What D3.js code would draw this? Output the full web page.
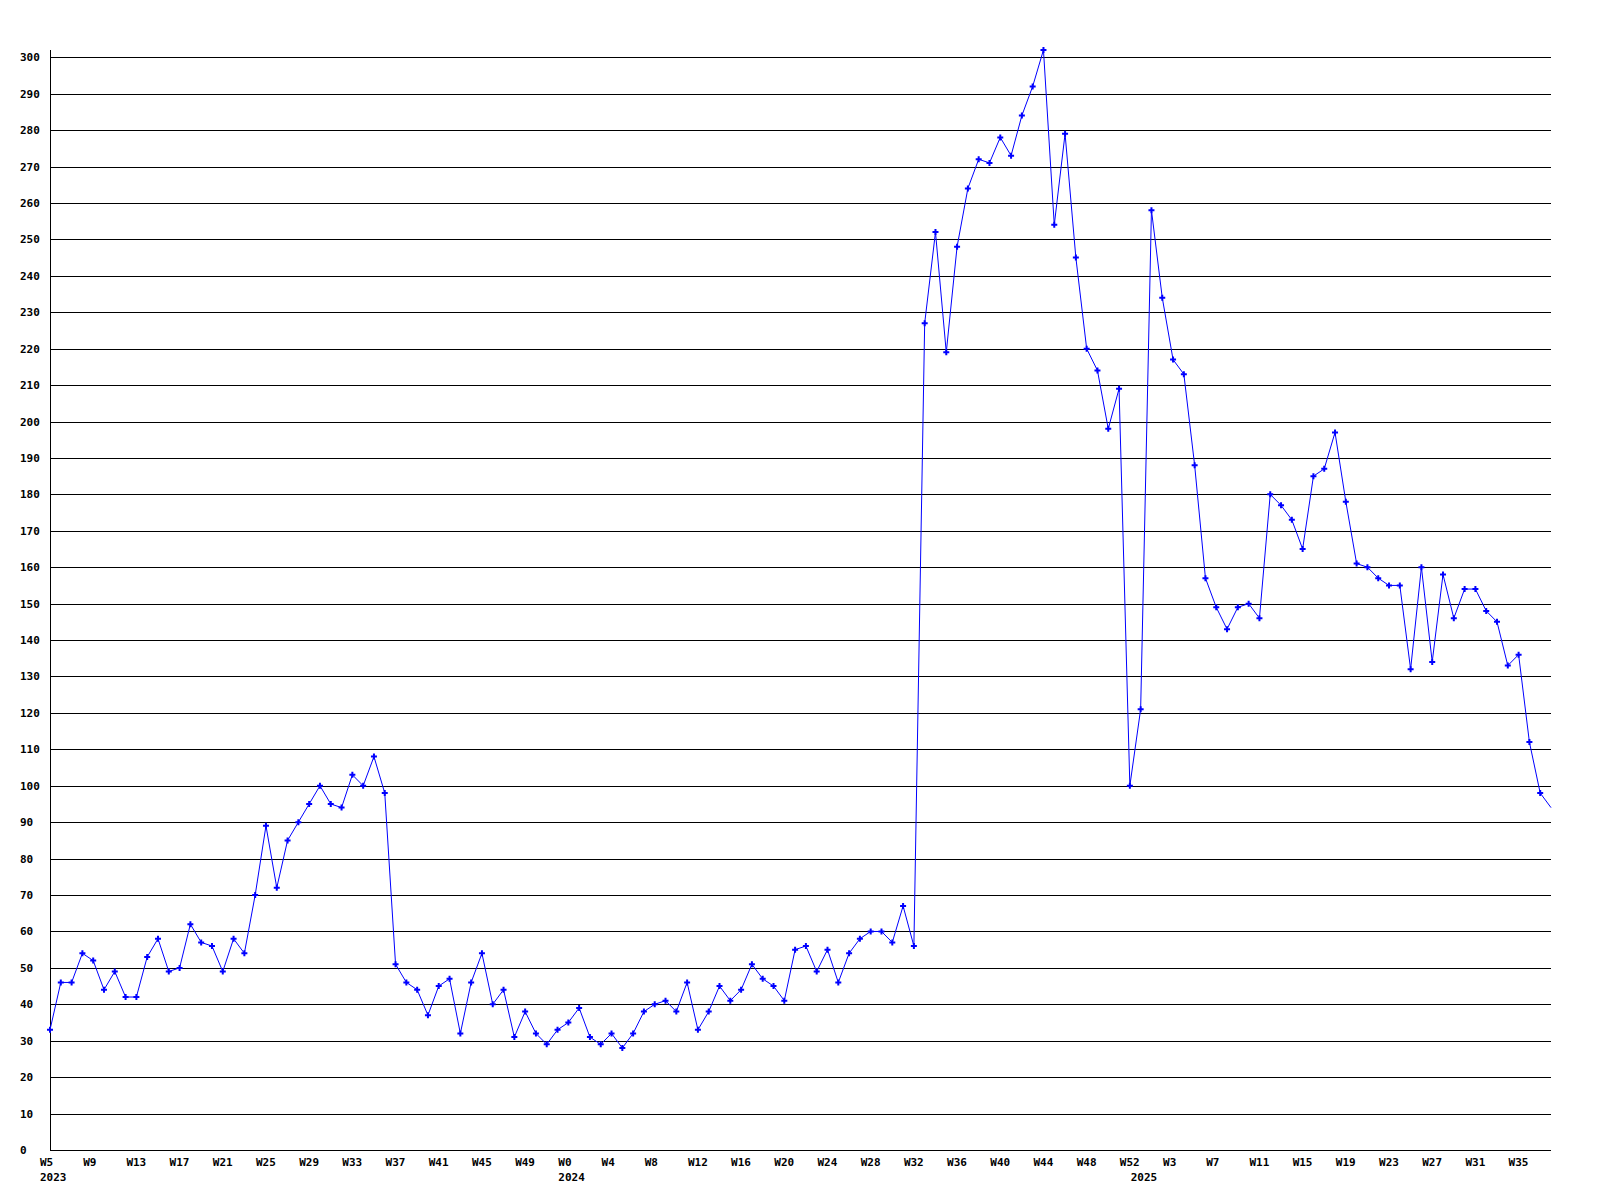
<!DOCTYPE html>
<html>
<head>
<meta charset="utf-8">
<script src="https://cdn.jsdelivr.net/npm/d3@7/dist/d3.min.js"></script>
<style>
  body { margin: 0; background: #fff; }
  text { font-family: "DejaVu Sans Mono", monospace; font-weight: bold; font-size: 11px; fill: #000; }
</style>
</head>
<body>
<script>
// weeks shown, per year (first and last week number)
const yearSpans = [
  { year: "2023", first: 5, last: 52 },
  { year: "2024", first: 0, last: 52 },
  { year: "2025", first: 0, last: 38 }
];

// weekly values, one per week, in order
const values = [
  33, 46, 46, 54, 52, 44, 49, 42, 42, 53, 58, 49, 50, 62, 57, 56, 49, 58, 54, 70,
  89, 72, 85, 90, 95, 100, 95, 94, 103, 100, 108, 98, 51, 46, 44, 37, 45, 47, 32, 46,
  54, 40, 44, 31, 38, 32, 29, 33, 35, 39, 31, 29, 32, 28, 32, 38, 40, 41, 38, 46,
  33, 38, 45, 41, 44, 51, 47, 45, 41, 55, 56, 49, 55, 46, 54, 58, 60, 60, 57, 67,
  56, 227, 252, 219, 248, 264, 272, 271, 278, 273, 284, 292, 302, 254, 279, 245, 220, 214, 198, 209,
  100, 121, 258, 234, 217, 213, 188, 157, 149, 143, 149, 150, 146, 180, 177, 173, 165, 185, 187, 197,
  178, 161, 160, 157, 155, 155, 132, 160, 134, 158, 146, 154, 154, 148, 145, 133, 136, 112, 98, 94
];

const yTicks = d3.range(0, 301, 10);
const labelEvery = 4;

// build category list from the spans
let categories = [];
yearSpans.forEach(s => {
  d3.range(s.first, s.last + 1).forEach((w, k) => {
    categories.push({ label: "W" + w, year: k === 0 ? s.year : null });
  });
});

var width = 1600, height = 1200;
var svg = d3.select("body").append("svg")
  .attr("width", width)
  .attr("height", height);

let x = d3.scaleLinear()
  .domain([0, values.length - 1])
  .range([50, 1551]);

let y = d3.scaleLinear()
  .domain([0, d3.max(values)])
  .range([1150, 50]);

// horizontal grid
svg.append("g")
  .selectAll("line")
  .data(yTicks)
  .join("line")
  .attr("x1", x(0))
  .attr("x2", x(values.length - 1))
  .attr("y1", d => Math.round(y(d)) + 0.5)
  .attr("y2", d => Math.round(y(d)) + 0.5)
  .attr("stroke", "#000")
  .attr("shape-rendering", "crispEdges");

// y axis line
svg.append("line")
  .attr("x1", 50.5).attr("x2", 50.5)
  .attr("y1", y.range()[1]).attr("y2", y.range()[0])
  .attr("stroke", "#000")
  .attr("shape-rendering", "crispEdges");

// y labels
svg.append("g")
  .selectAll("text")
  .data(yTicks)
  .join("text")
  .attr("x", 20)
  .attr("y", d => Math.round(y(d)) + 4)
  .text(d => d);

// x labels
let xl = svg.append("g");
categories.forEach((c, i) => {
  if (i % labelEvery === 0) {
    xl.append("text")
      .attr("x", x(i) - 10)
      .attr("y", 1166)
      .text(c.label);
  }
  if (c.year) {
    xl.append("text")
      .attr("x", x(i) - 10)
      .attr("y", 1181)
      .text(c.year);
  }
});

// the series
let line = d3.line()
  .x((d, i) => x(i))
  .y(d => y(d));

svg.append("path")
  .datum(values)
  .attr("d", line)
  .attr("fill", "none")
  .attr("stroke", "#0000ff")
  .attr("stroke-width", 1);

svg.append("g")
  .selectAll("path")
  .data(values.slice(0, -1))
  .join("path")
  .attr("transform", (d, i) => `translate(${x(i)},${y(d)})`)
  .attr("d", d3.symbol().type(d3.symbolCross).size(20))
  .attr("fill", "#0000ff");
</script>
</body>
</html>
